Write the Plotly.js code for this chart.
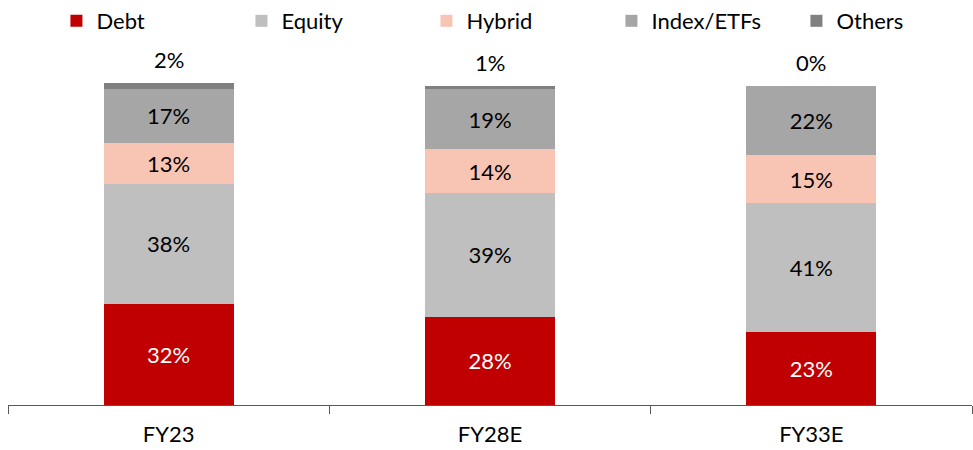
<!DOCTYPE html>
<html>
<head>
<meta charset="utf-8">
<script src="https://cdn.plot.ly/plotly-3.0.1.min.js"></script>
<style>html,body{margin:0;padding:0;background:#fff;}#chart{width:973px;height:450px;}</style>
</head>
<body>
<div id="chart"></div>
<script>
const categories = ["FY23", "FY28E", "FY33E"];
const debt = [32, 28, 23];
const equity = [38, 39, 41];
const hybrid = [13, 14, 15];
const indexEtfs = [17, 19, 22];
const others = [2, 1, 0];

const seriesNames = ["Debt", "Equity", "Hybrid", "Index/ETFs", "Others"];
const seriesValues = [debt, equity, hybrid, indexEtfs, others];
const colors = ["#C00000", "#BFBFBF", "#F8C5B5", "#A6A6A6", "#808080"];
const textColors = ["#ffffff", "#000000", "#000000", "#000000", "#000000"];

const FONT = "Lato, 'Open Sans', sans-serif";

const traces = seriesNames.map((name, i) => ({
  type: "bar",
  name: name,
  x: categories,
  y: seriesValues[i],
  marker: {color: colors[i]},
  text: seriesValues[i].map(v => v + "%"),
  textposition: i === 4 ? "none" : "inside",
  insidetextanchor: "middle",
  textangle: 0,
  insidetextfont: {family: FONT, size: 22, color: textColors[i]},
  hoverinfo: "none"
}));

const totals = categories.map((c, j) => seriesValues.reduce((s, arr) => s + arr[j], 0));
const annotations = categories.map((c, j) => ({
  x: c, y: totals[j], xref: "x", yref: "y",
  text: others[j] + "%", showarrow: false,
  yanchor: "bottom", yshift: 8,
  font: {family: FONT, size: 22, color: "#000"}
}));

const layout = {
  width: 973, height: 450,
  margin: {l: 8, r: 1, t: 40, b: 45, autoexpand: false},
  paper_bgcolor: "#fff", plot_bgcolor: "#fff",
  barmode: "stack",
  bargap: 0.595,
  font: {family: FONT, size: 22, color: "#000"},
  xaxis: {
    type: "category",
    showline: true, linecolor: "#595959", linewidth: 1,
    ticks: "outside", tickson: "boundaries", ticklen: 8, tickcolor: "#595959",
    ticklabelstandoff: 10,
    tickfont: {family: FONT, size: 22, color: "#000"},
    showgrid: false, zeroline: false, fixedrange: true
  },
  yaxis: {
    range: [0, 115.5],
    visible: false, showgrid: false, zeroline: false, fixedrange: true
  },
  showlegend: true,
  legend: {
    orientation: "h",
    xref: "container", x: 0.058, xanchor: "left",
    y: 1, yref: "container", yanchor: "top",
    entrywidth: 140, entrywidthmode: "pixels",
    itemwidth: 30,
    traceorder: "normal",
    font: {family: FONT, size: 22, color: "#000"},
    bgcolor: "rgba(0,0,0,0)"
  },
  annotations: annotations
};

Plotly.newPlot("chart", traces, layout, {displayModeBar: false, staticPlot: true});
</script>
</body>
</html>
